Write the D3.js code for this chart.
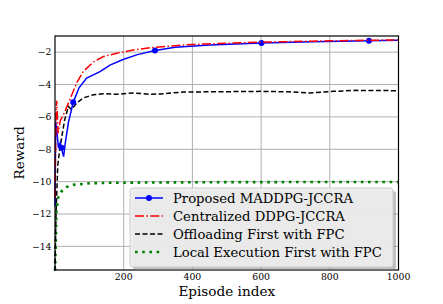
<!DOCTYPE html>
<meta charset="utf-8">
<style>
  body { margin: 0; background: #ffffff; }
  text { font-family: "DejaVu Serif", serif; fill: #000; }
</style>
<svg width="443" height="304"></svg>
<script src="https://d3js.org/d3.v7.min.js"></script>
<script>
  // episodes and rewards
  var blueEp = [0, 2, 6, 10, 15, 19, 22, 25, 30, 39, 53, 70, 92, 131, 160, 198, 240, 291, 350, 450, 601, 750, 914, 1000]
  var blueY = [-11.5, -6.3, -7.0, -7.9, -7.6, -7.9, -8.2, -8.45, -7.6, -6.35, -5.1, -4.2, -3.6, -3.2, -2.8, -2.45, -2.15, -1.9, -1.7, -1.55, -1.43, -1.36, -1.3, -1.27]
  var blueMarks = [19, 53, 291, 601, 914]

  var redEp = [0, 3, 5, 9, 12, 16, 24, 44, 63, 82, 112, 141, 180, 228, 277, 400, 601, 800, 1000]
  var redY = [-11, -5.6, -5.0, -7.0, -6.6, -6.2, -5.9, -4.9, -3.9, -3.2, -2.6, -2.27, -2.06, -1.86, -1.72, -1.52, -1.38, -1.3, -1.24]

  var blackEp = [0, 3, 8, 14, 20, 28, 39, 48, 63, 82, 112, 141, 180, 228, 277, 306, 374, 450, 601, 680, 742, 810, 878, 1000]
  var blackY = [-15.5, -12, -9, -8, -7.2, -6.2, -5.35, -5.55, -5.15, -4.83, -4.63, -4.57, -4.6, -4.52, -4.6, -4.58, -4.46, -4.45, -4.42, -4.45, -4.52, -4.42, -4.36, -4.38]

  var greenEp = [0, 2, 4, 9, 19, 34, 53, 102, 160, 300, 500, 1000]
  var greenY = [-15.5, -14, -11.9, -11.0, -10.6, -10.33, -10.2, -10.1, -10.07, -10.05, -10.03, -10.02]

  var xTicks = [200, 400, 600, 800, 1000]
  var yTicks = [-2, -4, -6, -8, -10, -12, -14]

  var legendNames = ['Proposed MADDPG-JCCRA', 'Centralized DDPG-JCCRA', 'Offloading First with FPC', 'Local Execution First with FPC']

  var pL = 55, pR = 398.5, pT = 36, pB = 270

  var svg = d3.select('svg')
  var x = d3.scaleLinear().domain([0, 1000]).range([pL, pR])
  var y = d3.scaleLinear().domain([-15.46, -1.0]).range([pB, pT])

  // grid
  var grid = svg.append('g').attr('stroke', '#b0b0b0').attr('stroke-width', 1)
  grid.selectAll('.vx').data(xTicks).enter().append('line')
    .attr('x1', d => x(d)).attr('x2', d => x(d)).attr('y1', pT).attr('y2', pB)
  grid.selectAll('.hy').data(yTicks).enter().append('line')
    .attr('x1', pL).attr('x2', pR).attr('y1', d => y(d)).attr('y2', d => y(d))

  function series(ep, val) {
    return ep.map(function(e, i) { return [e, val[i]] })
  }
  var line = d3.line().x(d => x(d[0])).y(d => y(d[1]))

  var plot = svg.append('g')
  plot.append('path').datum(series(greenEp, greenY)).attr('d', line)
    .attr('fill', 'none').attr('stroke', '#008000').attr('stroke-width', 2.6).attr('stroke-dasharray', '2.6,4.6')
  plot.append('path').datum(series(blackEp, blackY)).attr('d', line)
    .attr('fill', 'none').attr('stroke', '#000').attr('stroke-width', 1.5).attr('stroke-dasharray', '5,2.5')
  plot.append('path').datum(series(blueEp, blueY)).attr('d', line)
    .attr('fill', 'none').attr('stroke', '#0000ff').attr('stroke-width', 1.5)
  var blueAt = d3.scaleLinear().domain(blueEp).range(blueY)
  plot.selectAll('.mk').data(blueMarks).enter().append('circle')
    .attr('cx', d => x(d)).attr('cy', d => y(blueAt(d)))
    .attr('r', 3).attr('fill', '#0000ff')
  plot.append('path').datum(series(redEp, redY)).attr('d', line)
    .attr('fill', 'none').attr('stroke', '#ff0000').attr('stroke-width', 1.5).attr('stroke-dasharray', '9,2.4,1.5,2.4')

  // axes frame
  svg.append('rect').attr('x', pL).attr('y', pT).attr('width', pR - pL).attr('height', pB - pT)
    .attr('fill', 'none').attr('stroke', '#000').attr('stroke-width', 1.2)

  svg.selectAll('.xt').data(xTicks).enter().append('text')
    .attr('x', d => x(d)).attr('y', pB + 10).attr('text-anchor', 'middle')
    .attr('font-size', 9.3).text(d => d)
  svg.selectAll('.yt').data(yTicks).enter().append('text')
    .attr('x', pL - 3.5).attr('y', d => y(d) + 3.3).attr('text-anchor', 'end')
    .attr('font-size', 9.3).text(d => '\u2212' + Math.abs(d))

  svg.append('text').attr('x', (pL + pR) / 2).attr('y', pB + 26).attr('text-anchor', 'middle')
    .attr('font-size', 13.6).text('Episode index')
  svg.append('text').attr('transform', 'translate(24,' + ((pT + pB) / 2) + ') rotate(-90)')
    .attr('text-anchor', 'middle').attr('font-size', 13.6).text('Reward')

  // legend
  var lg = svg.append('g').attr('transform', 'translate(130,188)')
  lg.append('rect').attr('x', 3).attr('y', 3).attr('width', 263).attr('height', 79).attr('rx', 3)
    .attr('fill', '#808080').attr('opacity', 0.5)
  lg.append('rect').attr('width', 263).attr('height', 79).attr('rx', 3)
    .attr('fill', '#eeeeee').attr('fill-opacity', 0.92).attr('stroke', '#cccccc')
  var styles = [
    { c: '#0000ff', w: 1.5, d: null, m: true },
    { c: '#ff0000', w: 1.5, d: '9,2.4,1.5,2.4' },
    { c: '#000', w: 1.5, d: '5,2.5' },
    { c: '#008000', w: 2.6, d: '2.6,4.6' }
  ]
  legendNames.forEach(function(name, i) {
    var yy = 10 + i * 18
    var s = styles[i]
    lg.append('line').attr('x1', 5).attr('x2', 33).attr('y1', yy).attr('y2', yy)
      .attr('stroke', s.c).attr('stroke-width', s.w).attr('stroke-dasharray', s.d)
    if (s.m) lg.append('circle').attr('cx', 19).attr('cy', yy).attr('r', 3).attr('fill', s.c)
    lg.append('text').attr('x', 43).attr('y', yy + 4.6).attr('font-size', 13.2).text(name)
  })
</script>
